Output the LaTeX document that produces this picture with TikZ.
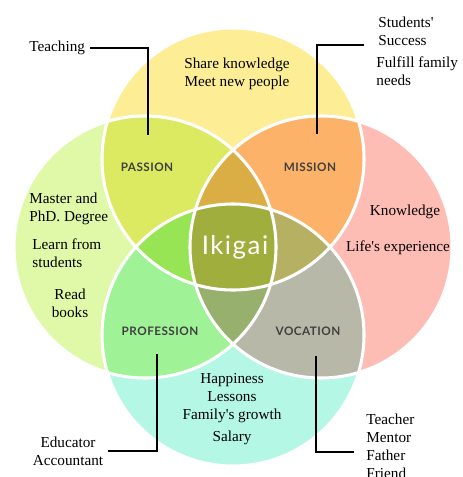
\documentclass[tikz,border=0pt]{standalone}
\usepackage{fontspec}
\setmainfont{Liberation Serif}
\newfontfamily\lato{Lato}[LetterSpace=4]
\newfontfamily\latowide{Lato}[LetterSpace=6]
\definecolor{topfill}{HTML}{FDEE96}
\definecolor{leftfill}{HTML}{E0F9A9}
\definecolor{rightfill}{HTML}{FDBDB5}
\definecolor{bottomfill}{HTML}{B4F7E4}
\definecolor{passionfill}{HTML}{DCEA61}
\definecolor{missionfill}{HTML}{FCB268}
\definecolor{professionfill}{HTML}{A0F297}
\definecolor{vocationfill}{HTML}{B8B8A8}
\definecolor{toppetal}{HTML}{DBAE45}
\definecolor{leftpetal}{HTML}{97E454}
\definecolor{rightpetal}{HTML}{B6B063}
\definecolor{bottompetal}{HTML}{98B06E}
\definecolor{ikigaifill}{HTML}{A0AE3E}
\definecolor{zonegray}{HTML}{404040}
\begin{document}
\begin{tikzpicture}[x=0.03cm, y=-0.03cm,
  ring/.style={draw=white, line width=2.6pt},
  zone label/.style={font=\lato\bfseries\fontsize{10}{12}\selectfont, text=zonegray},
  note/.style={font=\fontsize{13}{15.3}\selectfont, inner sep=1pt},
  pin/.style={line width=1.6pt, shorten <=3pt}]
\useasboundingbox (0,0) rectangle (462,477);
\def\rad{3.93cm}
\coordinate (ctop) at (233,159);
\coordinate (cleft) at (145,247);
\coordinate (cright) at (321,247);
\coordinate (cbottom) at (233,335);

% circles
\fill[topfill] (ctop) circle (\rad);
\fill[leftfill] (cleft) circle (\rad);
\fill[rightfill] (cright) circle (\rad);
\fill[bottomfill] (cbottom) circle (\rad);
% two overlaps
\begin{scope}
  \clip (ctop) circle (\rad);
  \fill[passionfill] (cleft) circle (\rad);
  \fill[missionfill] (cright) circle (\rad);
\end{scope}
\begin{scope}
  \clip (cbottom) circle (\rad);
  \fill[professionfill] (cleft) circle (\rad);
  \fill[vocationfill] (cright) circle (\rad);
\end{scope}
% three overlaps
\begin{scope}
  \clip (cleft) circle (\rad);
  \clip (cright) circle (\rad);
  \fill[toppetal] (ctop) circle (\rad);
  \fill[bottompetal] (cbottom) circle (\rad);
\end{scope}
\begin{scope}
  \clip (ctop) circle (\rad);
  \clip (cbottom) circle (\rad);
  \fill[leftpetal] (cleft) circle (\rad);
  \fill[rightpetal] (cright) circle (\rad);
\end{scope}
% all four
\begin{scope}
  \clip (ctop) circle (\rad);
  \clip (cbottom) circle (\rad);
  \clip (cleft) circle (\rad);
  \fill[ikigaifill] (cright) circle (\rad);
\end{scope}
\foreach \c in {ctop,cleft,cright,cbottom}
  \draw[ring] (\c) circle (\rad);

\node[zone label] (passion) at (147,167) {PASSION};
\node[zone label] (mission) at (310,167) {MISSION};
\node[zone label] (profession) at (160,331) {PROFESSION};
\node[zone label] (vocation) at (308,331) {VOCATION};
\node[font=\latowide\fontsize{22}{26}\selectfont, text=white] (ikigai) at (235,247) {Ikigai};

\node[note, anchor=west] (teaching) at (28,48) {Teaching};
\node[note, align=center] (share) at (237,74) {Share knowledge\\Meet new people};
\node[note, align=left, anchor=west] (students) at (377,31) {Students\textquotesingle\\Success};
\node[note, align=left, anchor=west] (fulfill) at (375,71) {Fulfill family\\needs};
\node[note] (knowledge) at (405,212) {Knowledge};
\node[note] (lifes) at (398,248) {Life\textquotesingle s experience};
\node[note, align=left, anchor=west] (master) at (28,209) {Master and\\PhD. Degree};
\node[note, align=left, anchor=west] (learn) at (31,253) {Learn from\\students};
\node[note, align=center] (read) at (70,303) {Read\\books};
\node[note, align=center] (happiness) at (232,409) {Happiness\\Lessons\\Family\textquotesingle s growth\\[3pt]Salary};
\node[note, align=center] (educator) at (68,451) {Educator\\Accountant};
\node[note, align=left, anchor=west] (teacher) at (365,446) {Teacher\\Mentor\\Father\\Friend};

\coordinate (passionpin) at (148,135);
\coordinate (missionhook) at (368,45);
\coordinate (missionpin) at (317,134);
\coordinate (professionpin) at (157,354);
\coordinate (vocationpin) at (316,352);
\coordinate (vocationhook) at (354,452);
\draw[pin] (teaching.east) -| (passionpin);
\draw[pin] (missionhook) -| (missionpin);
\draw[pin] (educator.east) -| (professionpin);
\draw[pin] (vocationpin) |- (vocationhook);
\end{tikzpicture}
\end{document}
